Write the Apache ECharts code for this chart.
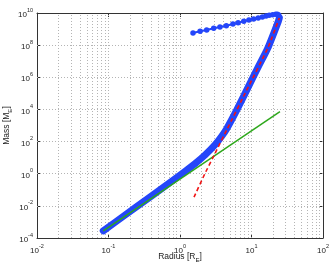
<!DOCTYPE html>
<html><head><meta charset="utf-8">
<script src="https://cdn.jsdelivr.net/npm/echarts/dist/echarts.min.js"></script>
<style>html,body{margin:0;padding:0;background:#fff}#c{width:332px;height:267px}</style>
</head><body><div id="c"></div>
<script>
// Blue curve: rising (dense, thick) part
const blueRiseR = [0.0845, 0.158, 0.38, 0.79, 1.17, 1.62, 2.24, 3.09, 3.83, 4.5, 6.21, 8.57, 12.6, 16.9, 23.7, 24.5];
const blueRiseM = [2.8e-4, 2.1e-3, 0.035, 0.38, 1.38, 4.2, 14.5, 63, 214, 630, 9.1e3, 1.6e5, 5e6, 6.6e7, 3.0e9, 5e9];
// Blue curve: returning (sparse markers) part
const blueBackR = [24.5, 24.0, 23.0, 21.8, 19.8, 17.7, 16.0, 14.2, 12.4, 10.7, 9.2, 7.8, 6.5, 5.5, 4.44, 3.62, 2.96, 2.36, 1.91, 1.52];
const blueBackM = [5e9, 7.5e9, 8.5e9, 8.3e9, 7.8e9, 7.2e9, 6.5e9, 5.6e9, 4.9e9, 4.2e9, 3.7e9, 3.05e9, 2.5e9, 2.07e9, 1.62e9, 1.35e9, 1.12e9, 8.8e8, 7.3e8, 5.7e8];
// Red dashed curve
const redR = [1.57, 2.24, 3.09, 4.5, 8.57, 16.9, 24.5];
const redM = [0.035, 1.06, 18.6, 525, 1.6e5, 6.6e7, 4.9e9];
// Green line
const greenR = [0.0845, 25];
const greenM = [2.8e-4, 7.2e3];
// Tick exponents
const xTickExponents = [-2, -1, 0, 1, 2];
const yTickExponents = [-4, -2, 0, 2, 4, 6, 8, 10];

const zip = (a, b) => a.map((v, i) => [v, b[i]]);
const BLUE = '#2446fa', GREEN = '#2ea81c', RED = '#f01414';
const FONT = 'Liberation Sans, Arial, Helvetica, sans-serif';

const xMinor = [];
for (let d = xTickExponents[0]; d < xTickExponents[xTickExponents.length - 1]; d++) {
  for (let k = 2; k <= 9; k++) xMinor.push(k * Math.pow(10, d));
}
const xMajor = xTickExponents.slice(1, -1).map(e => Math.pow(10, e));
const yMajor = yTickExponents.slice(1, -1).map(e => Math.pow(10, e));

const labelRich = {
  b: { fontSize: 8, fontFamily: FONT, color: '#222', verticalAlign: 'bottom', padding: [4, 0, 0, 0] },
  e: { fontSize: 5.5, fontFamily: FONT, color: '#222', verticalAlign: 'top' }
};
const fmt = v => '{b|10}{e|' + Math.round(Math.log10(v)) + '}';
const axisLine = { show: true, lineStyle: { color: '#333', width: 1 } };
const tick = { show: true, inside: true, length: 4, lineStyle: { color: '#333' } };
const gridStyle = { color: '#b4b4b4', type: [1, 2], width: 1 };
const nameStyle = { fontSize: 8.5, fontFamily: FONT, color: '#222', lineHeight: 13,
  rich: { sub: { fontSize: 6, fontFamily: FONT, color: '#222', verticalAlign: 'bottom' } } };

const chart = echarts.init(document.getElementById('c'), null, { renderer: 'canvas' });
chart.setOption({
  animation: false,
  backgroundColor: '#fff',
  grid: { left: 37, right: 9, top: 13, bottom: 29, containLabel: false, outerBoundsMode: 'none' },
  xAxis: [{
    type: 'log', logBase: 10, min: 0.01, max: 100, interval: 1,
    axisLine, axisTick: tick, splitLine: { show: false }, minorSplitLine: { show: false },
    axisLabel: { formatter: fmt, rich: labelRich, margin: 5 },
    name: 'Radius [R{sub|E}]', nameLocation: 'middle', nameGap: 12, nameMoveOverlap: false,
    nameTextStyle: nameStyle
  }, {
    type: 'log', logBase: 10, min: 0.01, max: 100, interval: 1, position: 'top',
    axisLine, axisTick: tick, splitLine: { show: false }, axisLabel: { show: false }
  }],
  yAxis: [{
    type: 'log', logBase: 10, min: 1e-4, max: 1e10, interval: 2,
    axisLine, axisTick: tick, splitLine: { show: false }, minorSplitLine: { show: false },
    axisLabel: { formatter: fmt, rich: labelRich, margin: 4 },
    name: 'Mass [M{sub|E}]', nameLocation: 'middle', nameGap: 24, nameMoveOverlap: false,
    nameTextStyle: nameStyle
  }, {
    type: 'log', logBase: 10, min: 1e-4, max: 1e10, interval: 2, position: 'right',
    axisLine, axisTick: tick, splitLine: { show: false }, axisLabel: { show: false }
  }],
  series: [{
    type: 'line', name: 'grid', data: [], z: 1, silent: true,
    markLine: { z: 1, silent: true, symbol: ['none', 'none'], label: { show: false },
      lineStyle: gridStyle,
      data: xMinor.concat(xMajor).map(v => ({ xAxis: v })).concat(yMajor.map(v => ({ yAxis: v }))) }
  }, {
    type: 'line', name: 'blueRise', data: zip(blueRiseR, blueRiseM), z: 10,
    showSymbol: false, symbol: 'none', smooth: 0.2,
    lineStyle: { color: BLUE, width: 7, cap: 'round', join: 'round' }
  }, {
    type: 'line', name: 'blueBack', data: zip(blueBackR, blueBackM), z: 10,
    symbol: 'circle', symbolSize: 5.5, itemStyle: { color: BLUE },
    lineStyle: { color: BLUE, width: 2 }
  }, {
    type: 'line', name: 'green', data: zip(greenR, greenM), z: 11,
    symbol: 'none', lineStyle: { color: GREEN, width: 1.5 }
  }, {
    type: 'line', name: 'red', data: zip(redR, redM), z: 12,
    symbol: 'none', smooth: 0.15, lineStyle: { color: RED, width: 1.6, type: [4, 3] }
  }]
});
</script>
</body></html>
